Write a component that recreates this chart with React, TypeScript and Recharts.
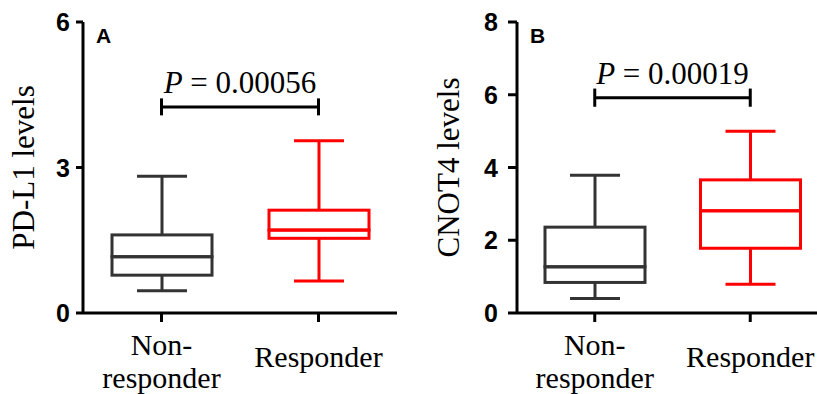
import React from "react";
import {
  ComposedChart,
  Bar,
  XAxis,
  YAxis,
  Cell,
  ReferenceLine,
} from "recharts";

const categories = ["Non-responder", "Responder"];

// PD-L1 box stats
const pdl1Min = [0.46, 0.66];
const pdl1Q1 = [0.78, 1.54];
const pdl1Median = [1.16, 1.71];
const pdl1Q3 = [1.61, 2.12];
const pdl1Max = [2.82, 3.55];
const pdl1Ticks = [0, 3, 6];

// CNOT4 box stats
const cnot4Min = [0.4, 0.79];
const cnot4Q1 = [0.84, 1.78];
const cnot4Median = [1.27, 2.81];
const cnot4Q3 = [2.36, 3.66];
const cnot4Max = [3.79, 5.0];
const cnot4Ticks = [0, 2, 4, 6, 8];

const pValues = ["0.00056", "0.00019"];
const bracketLevels = [4.25, 5.92];

const GREY = "#333333";
const RED = "#ff0000";
const colors = [GREY, RED];
const SERIF = "'Liberation Serif', 'Times New Roman', serif";
const SANS = "'Liberation Sans', Arial, sans-serif";

function buildRows(mn: number[], q1: number[], med: number[], q3: number[], mx: number[]) {
  return categories.map((name, i) => ({
    name,
    base: mn[i],
    lowWhisker: q1[i] - mn[i],
    boxLow: med[i] - q1[i],
    boxHigh: q3[i] - med[i],
    highWhisker: mx[i] - q3[i],
  }));
}

const LowWhisker = (p: any) => {
  const cx = p.x + p.width / 2;
  const cap = p.width / 4;
  return (
    <g stroke={p.stroke} strokeWidth={3} fill="none">
      <line x1={cx} x2={cx} y1={p.y} y2={p.y + p.height} />
      <line x1={cx - cap} x2={cx + cap} y1={p.y + p.height} y2={p.y + p.height} />
    </g>
  );
};

const HighWhisker = (p: any) => {
  const cx = p.x + p.width / 2;
  const cap = p.width / 4;
  return (
    <g stroke={p.stroke} strokeWidth={3} fill="none">
      <line x1={cx} x2={cx} y1={p.y} y2={p.y + p.height} />
      <line x1={cx - cap} x2={cx + cap} y1={p.y} y2={p.y} />
    </g>
  );
};

const BoxPart = (p: any) => (
  <rect x={p.x} y={p.y} width={p.width} height={p.height} stroke={p.stroke} strokeWidth={3} fill="none" />
);

const XTick = (p: any) => {
  const v: string = p.payload.value;
  const idx = v.indexOf("-");
  const lines = idx >= 0 ? [v.slice(0, idx + 1), v.slice(idx + 1)] : [v];
  return (
    <g>
      {lines.length === 2 ? (
        <>
          <text x={p.x} y={p.y + 33} textAnchor="middle" fontFamily={SERIF} fontSize={30} fill="#000">
            {lines[0]}
          </text>
          <text x={p.x} y={p.y + 66} textAnchor="middle" fontFamily={SERIF} fontSize={30} fill="#000">
            {lines[1]}
          </text>
        </>
      ) : (
        <text x={p.x} y={p.y + 45} textAnchor="middle" fontFamily={SERIF} fontSize={30} fill="#000">
          {lines[0]}
        </text>
      )}
    </g>
  );
};

const YTick = (p: any) => (
  <text
    x={p.x}
    y={p.y}
    dy="0.36em"
    textAnchor="end"
    fontFamily={SANS}
    fontWeight="bold"
    fontSize={25}
    fill="#000"
  >
    {p.payload.value}
  </text>
);

interface PanelProps {
  rows: any[];
  ticks: number[];
  yLabel: string;
  letter: string;
  pValue: string;
  bracket: number;
  capHalf: number;
  yAxisWidth: number;
  chartWidth: number;
  labelX: number;
  tickSize: number;
  tickMargin: number;
}

function Panel(props: PanelProps) {
  const { rows, ticks, yLabel, letter, pValue, bracket, capHalf, yAxisWidth, chartWidth, labelX, tickSize, tickMargin } = props;
  const top = ticks[ticks.length - 1];
  return (
    <ComposedChart
      width={chartWidth}
      height={394}
      data={rows}
      margin={{ top: 22, right: 0, left: 0, bottom: 0 }}
    >
      <XAxis
        dataKey="name"
        type="category"
        height={81}
        axisLine={{ stroke: "#000", strokeWidth: 3 }}
        tickLine={{ stroke: "#000", strokeWidth: 3 }}
        tickSize={9}
        tickMargin={0}
        interval={0}
        tick={<XTick />}
      />
      <YAxis
        type="number"
        domain={[0, top]}
        ticks={ticks}
        width={yAxisWidth}
        axisLine={{ stroke: "#000", strokeWidth: 3 }}
        tickLine={{ stroke: "#000", strokeWidth: 3 }}
        tickSize={tickSize}
        tickMargin={tickMargin}
        tick={<YTick />}
        label={(lp: any) => {
          const vb = lp.viewBox || { x: 0, y: 22, width: yAxisWidth, height: 291 };
          const cx = vb.x + labelX;
          const cy = vb.y + vb.height / 2;
          return (
            <text
              x={cx}
              y={cy}
              transform={`rotate(-90 ${cx} ${cy})`}
              textAnchor="middle"
              dominantBaseline="central"
              fontFamily={SERIF}
              fontSize={31}
              fill="#000"
            >
              {yLabel}
            </text>
          );
        }}
      />
      <Bar dataKey="base" stackId="box" fill="transparent" barSize={100} isAnimationActive={false} />
      <Bar dataKey="lowWhisker" stackId="box" barSize={100} shape={<LowWhisker />} isAnimationActive={false}>
        {rows.map((_, i) => (
          <Cell key={i} stroke={colors[i]} />
        ))}
      </Bar>
      <Bar dataKey="boxLow" stackId="box" barSize={100} shape={<BoxPart />} isAnimationActive={false}>
        {rows.map((_, i) => (
          <Cell key={i} stroke={colors[i]} />
        ))}
      </Bar>
      <Bar dataKey="boxHigh" stackId="box" barSize={100} shape={<BoxPart />} isAnimationActive={false}>
        {rows.map((_, i) => (
          <Cell key={i} stroke={colors[i]} />
        ))}
      </Bar>
      <Bar dataKey="highWhisker" stackId="box" barSize={100} shape={<HighWhisker />} isAnimationActive={false}>
        {rows.map((_, i) => (
          <Cell key={i} stroke={colors[i]} />
        ))}
      </Bar>
      <ReferenceLine
        segment={[
          { x: categories[0], y: bracket },
          { x: categories[1], y: bracket },
        ]}
        stroke="#000"
        strokeWidth={3}
        label={(lp: any) => {
          const vb = lp.viewBox || { x: 0, y: 0, width: 0 };
          const cx = vb.x + (vb.width || 0) / 2;
          return (
            <text x={cx} y={vb.y - 14} textAnchor="middle" fontFamily={SERIF} fontSize={31} fill="#000">
              <tspan fontStyle="italic">P</tspan> = {pValue}
            </text>
          );
        }}
      />
      <ReferenceLine
        segment={[
          { x: categories[0], y: bracket - capHalf },
          { x: categories[0], y: bracket + capHalf },
        ]}
        stroke="#000"
        strokeWidth={3}
      />
      <ReferenceLine
        segment={[
          { x: categories[1], y: bracket - capHalf },
          { x: categories[1], y: bracket + capHalf },
        ]}
        stroke="#000"
        strokeWidth={3}
      />
      <text x={yAxisWidth + 13} y={43} fontFamily={SANS} fontWeight="bold" fontSize={21} fill="#000">
        {letter}
      </text>
    </ComposedChart>
  );
}

export default function App() {
  const rowsA = buildRows(pdl1Min, pdl1Q1, pdl1Median, pdl1Q3, pdl1Max);
  const rowsB = buildRows(cnot4Min, cnot4Q1, cnot4Median, cnot4Q3, cnot4Max);
  return (
    <div
      style={{
        position: "absolute",
        left: 0,
        top: 0,
        width: 817,
        height: 394,
        overflow: "hidden",
        background: "#fff",
      }}
    >
      <div style={{ position: "absolute", left: 0, top: 0 }}>
        <Panel
          rows={rowsA}
          ticks={pdl1Ticks}
          yLabel="PD-L1 levels"
          letter="A"
          pValue={pValues[0]}
          bracket={bracketLevels[0]}
          capHalf={0.175}
          yAxisWidth={83}
          chartWidth={397}
          labelX={23}
          tickSize={7}
          tickMargin={6}
        />
      </div>
      <div style={{ position: "absolute", left: 410, top: 0 }}>
        <Panel
          rows={rowsB}
          ticks={cnot4Ticks}
          yLabel="CNOT4 levels"
          letter="B"
          pValue={pValues[1]}
          bracket={bracketLevels[1]}
          capHalf={0.25}
          yAxisWidth={107}
          chartWidth={418}
          labelX={38}
          tickSize={9}
          tickMargin={10}
        />
      </div>
    </div>
  );
}
